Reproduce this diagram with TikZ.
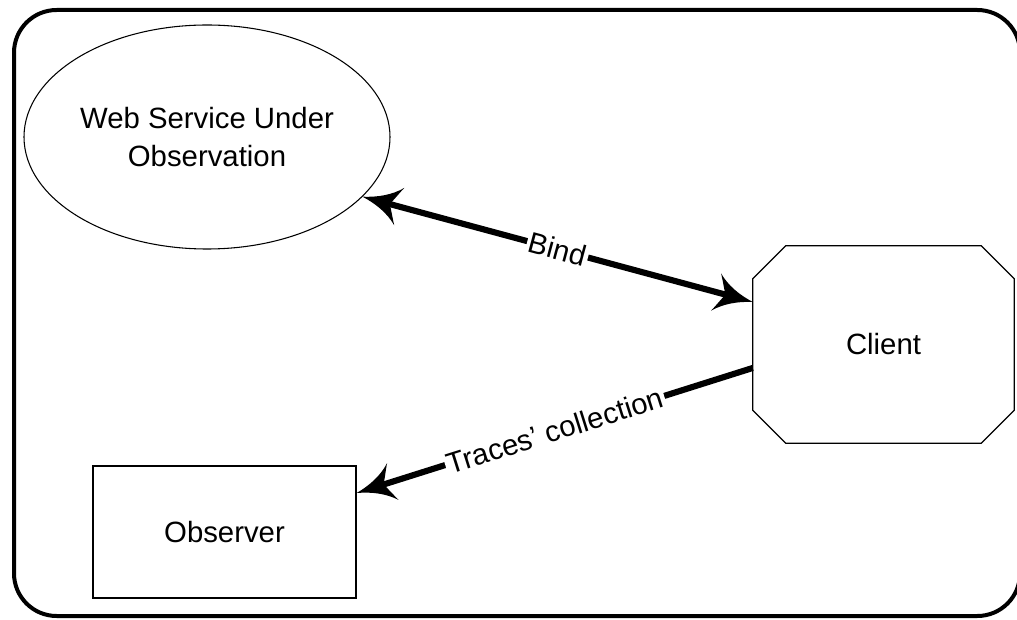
\documentclass[tikz,border=0pt]{standalone}
\usepackage{fontspec}
\setmainfont{Liberation Sans}
\usetikzlibrary{shapes.geometric}

% Filled arrow head with concave sides and a notched back
\pgfdeclarearrow{
  name = CurvedBarb,
  parameters = {},
  setup code = {
    \pgfarrowssettipend{0pt}
    \pgfarrowssetlineend{-18pt}
    \pgfarrowssetvisualbackend{-28.5pt}
    \pgfarrowsupperhullpoint{0pt}{0pt}
    \pgfarrowsupperhullpoint{-28.5pt}{14.5pt}
  },
  drawing code = {
    \pgfpathmoveto{\pgfqpoint{0pt}{0pt}}
    \pgfpathcurveto{\pgfqpoint{-11pt}{2.5pt}}{\pgfqpoint{-21pt}{7pt}}{\pgfqpoint{-28.5pt}{14.5pt}}
    \pgfpathcurveto{\pgfqpoint{-25pt}{8pt}}{\pgfqpoint{-23pt}{3pt}}{\pgfqpoint{-21pt}{0pt}}
    \pgfpathcurveto{\pgfqpoint{-23pt}{-3pt}}{\pgfqpoint{-25pt}{-8pt}}{\pgfqpoint{-28.5pt}{-14.5pt}}
    \pgfpathcurveto{\pgfqpoint{-21pt}{-7pt}}{\pgfqpoint{-11pt}{-2.5pt}}{\pgfqpoint{0pt}{0pt}}
    \pgfpathclose
    \pgfusepathqfill
  },
}

\begin{document}
\begin{tikzpicture}[x=0.75pt,y=-0.75pt,
  every node/.style={font=\fontsize{22}{28}\selectfont},
  thinshape/.style={draw, line width=0.8pt, inner sep=0pt, align=center},
  conn/.style={line width=4.6pt},
  lbl/.style={sloped, fill=white, inner sep=1.5pt}]

\useasboundingbox (0,0) rectangle (1017,620);

% outer frame
\draw[line width=3pt, rounded corners=32pt] (14,10) rectangle (1020,616);

% participants
\node[thinshape, ellipse, minimum width=274.5pt, minimum height=168pt] (wsuo) at (207,137)
  {Web Service Under\\Observation};
\node[thinshape, rectangle, line width=1pt, minimum width=197.25pt, minimum height=99pt] (obs) at (224.5,532)
  {Observer};
\node[inner sep=0pt, minimum width=195.75pt, minimum height=147.75pt] (client) at (883.5,344.5) {Client};
\draw[line width=1pt]
  ([xshift=24.75pt]client.north west) -- ([xshift=-24.75pt]client.north east)
  -- ([yshift=-24.75pt]client.north east) -- ([yshift=24.75pt]client.south east)
  -- ([xshift=-24.75pt]client.south east) -- ([xshift=24.75pt]client.south west)
  -- ([yshift=24.75pt]client.south west) -- ([yshift=-24.75pt]client.north west) -- cycle;

% connectors
\draw[conn, CurvedBarb-CurvedBarb] (wsuo.-21.7) -- ([yshift=31.9pt]client.west)
  node[midway, lbl] {Bind};
\draw[conn, -CurvedBarb] ([yshift=-17.6pt]client.west) -- ([yshift=29.25pt]obs.east)
  node[midway, lbl] {Traces' collection};
\end{tikzpicture}
\end{document}
